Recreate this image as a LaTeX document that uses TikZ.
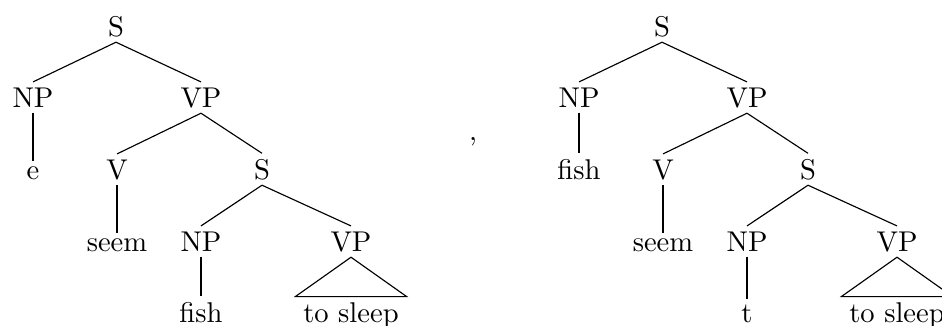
\documentclass[tikz,border=0pt]{standalone}
\begin{document}
\begin{tikzpicture}[x=0.35pt,y=-0.35pt,
  lab/.style={anchor=base,inner sep=1.75pt},
  edge/.style={line width=0.4pt}]
\useasboundingbox (0,0) rectangle (942,325);
% left tree
\begin{scope}
\node[lab] (aS)    at (116,36)  {S};
\node[lab] (aNP)   at (33,107)  {NP};
\node[lab] (aVP)   at (201,107) {VP};
\node[lab] (ae)    at (33,179)  {e};
\node[lab] (aV)    at (117,179) {V};
\node[lab] (aS2)   at (262,179) {S};
\node[lab] (aseem) at (117,251) {seem};
\node[lab] (aNP2)  at (201,251) {NP};
\node[lab] (aVP2)  at (351,251) {VP};
\node[lab] (afish) at (201,322) {fish};
\node[lab,inner xsep=2.6pt] (asl) at (351,322) {to sleep};
\draw[edge] (aS.south) -- (aNP.north);
\draw[edge] (aS.south) -- (aVP.north);
\draw[edge] (aNP.south) -- (ae.north);
\draw[edge] (aVP.south) -- (aV.north);
\draw[edge] (aVP.south) -- (aS2.north);
\draw[edge] (aV.south) -- (aseem.north);
\draw[edge] (aS2.south) -- (aNP2.north);
\draw[edge] (aS2.south) -- (aVP2.north);
\draw[edge] (aNP2.south) -- (afish.north);
\draw[edge] (aVP2.south) -- (asl.north west) -- (asl.north east) -- cycle;
\end{scope}
% comma
\node[anchor=base,inner sep=0pt] (comma) at (473,140) {,};
% right tree
\begin{scope}[xshift=546*0.35pt]
\node[lab] (bS)    at (116,36)  {S};
\node[lab] (bNP)   at (33,107)  {NP};
\node[lab] (bVP)   at (201,107) {VP};
\node[lab] (bfish) at (33,179)  {fish};
\node[lab] (bV)    at (117,179) {V};
\node[lab] (bS2)   at (262,179) {S};
\node[lab] (bseem) at (117,251) {seem};
\node[lab] (bNP2)  at (201,251) {NP};
\node[lab] (bVP2)  at (351,251) {VP};
\node[lab] (bt)    at (201,322) {t};
\node[lab,inner xsep=2.6pt] (bsl) at (351,322) {to sleep};
\draw[edge] (bS.south) -- (bNP.north);
\draw[edge] (bS.south) -- (bVP.north);
\draw[edge] (bNP.south) -- (bfish.north);
\draw[edge] (bVP.south) -- (bV.north);
\draw[edge] (bVP.south) -- (bS2.north);
\draw[edge] (bV.south) -- (bseem.north);
\draw[edge] (bS2.south) -- (bNP2.north);
\draw[edge] (bS2.south) -- (bVP2.north);
\draw[edge] (bNP2.south) -- (bt.north);
\draw[edge] (bVP2.south) -- (bsl.north west) -- (bsl.north east) -- cycle;
\end{scope}
\end{tikzpicture}
\end{document}
